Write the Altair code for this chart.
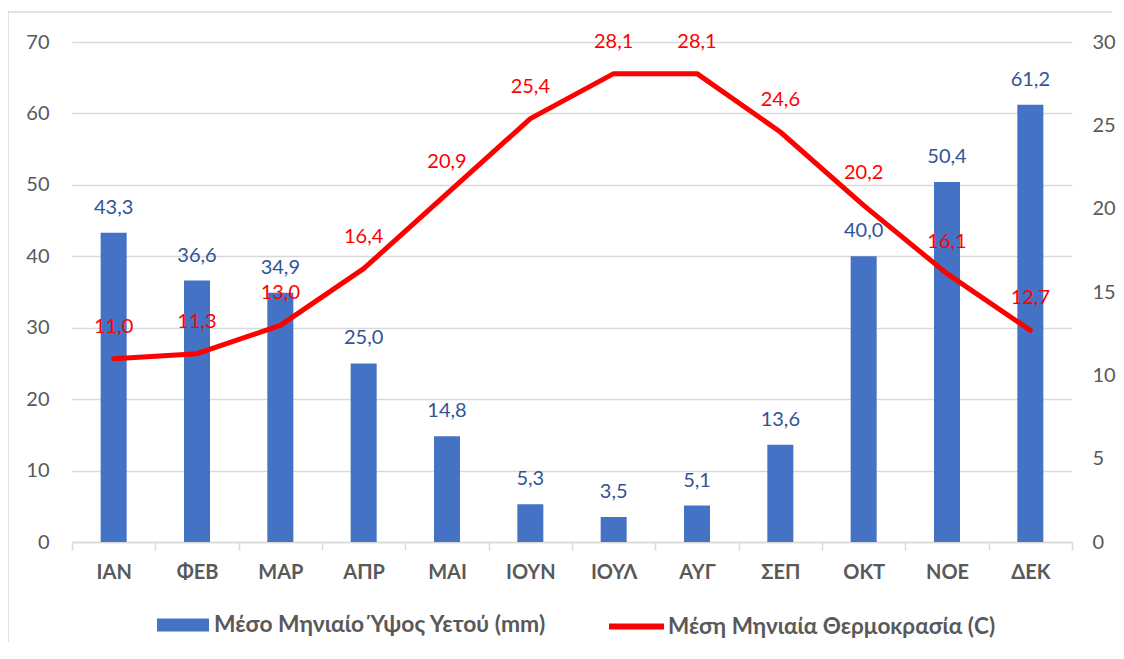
import altair as alt
import pandas as pd

months = ["ΙΑΝ", "ΦΕΒ", "ΜΑΡ", "ΑΠΡ", "ΜΑΙ", "ΙΟΥΝ", "ΙΟΥΛ", "ΑΥΓ", "ΣΕΠ", "ΟΚΤ", "ΝΟΕ", "ΔΕΚ"]
rain = [43.3, 36.6, 34.9, 25.0, 14.8, 5.3, 3.5, 5.1, 13.6, 40.0, 50.4, 61.2]
temp = [11.0, 11.3, 13.0, 16.4, 20.9, 25.4, 28.1, 28.1, 24.6, 20.2, 16.1, 12.7]
rain_name = "Μέσο Μηνιαίο Ύψος Υετού (mm)"
temp_name = "Μέση Μηνιαία Θερμοκρασία (C)"
left_ticks = [0, 10, 20, 30, 40, 50, 60, 70]
right_ticks = [0, 5, 10, 15, 20, 25, 30]

df = pd.DataFrame({"month": months, "rain": rain, "temp": temp,
                   "s1": rain_name, "s2": temp_name})

FONT = "Lato, Noto Sans, sans-serif"
GRAY = "#595959"

base = alt.Chart(df).transform_calculate(
    rain_lbl="replace(format(datum.rain, '.1f'), '.', ',')",
    temp_lbl="replace(format(datum.temp, '.1f'), '.', ',')",
)

xenc = alt.X("month:N", sort=months, title=None,
             scale=alt.Scale(paddingInner=0, paddingOuter=0),
             axis=alt.Axis(labelAngle=0, labelFont=FONT, labelFontSize=20,
                           labelFontWeight="bold", labelColor=GRAY,
                           domainColor="#D9D9D9", domainWidth=1.5,
                           tickColor="#D9D9D9", tickWidth=1.5, tickSize=8,
                           tickBand="extent", labelPadding=12, grid=False))

y_left = alt.Y("rain:Q", title=None,
               scale=alt.Scale(domain=[0, 70], nice=False),
               axis=alt.Axis(orient="left", values=left_ticks, domain=False,
                             ticks=False, labelFont=FONT, labelFontSize=20,
                             labelColor=GRAY, labelPadding=23,
                             grid=True, gridColor="#D9D9D9", gridWidth=1.5))

bars = base.mark_bar(size=26).encode(
    x=xenc,
    y=y_left,
    color=alt.Color("s1:N", scale=alt.Scale(domain=[rain_name], range=["#4472C4"]),
                    legend=alt.Legend(orient="none", legendX=85, legendY=557,
                                      title=None, direction="horizontal",
                                      symbolType="M-1,-0.25H1V0.25H-1Z",
                                      symbolSize=2704, symbolStrokeWidth=0,
                                      labelFont=FONT, labelFontSize=22.8,
                                      labelFontWeight="bold", labelColor=GRAY,
                                      labelLimit=500, labelOffset=5, padding=0)),
)

bar_text = base.mark_text(font=FONT, fontSize=20, color="#2F5597",
                          baseline="middle", dy=-25).encode(
    x=alt.X("month:N", sort=months),
    y=alt.Y("rain:Q"),
    text="rain_lbl:N",
)

frame_top = base.mark_rule(stroke="#D9D9D9", strokeWidth=1.5).encode(
    x=alt.value(-64), x2=alt.value(1040), y=alt.value(-30)
).transform_filter("datum.month == 'ΙΑΝ'")
frame_left = base.mark_rule(stroke="#D9D9D9", strokeWidth=1.5).encode(
    x=alt.value(-64), y=alt.value(-30), y2=alt.value(600)
).transform_filter("datum.month == 'ΙΑΝ'")

y_right = alt.Y("temp:Q", title=None,
                scale=alt.Scale(domain=[0, 30], nice=False),
                axis=alt.Axis(orient="right", values=right_ticks, domain=False,
                              ticks=False, labelFont=FONT, labelFontSize=20,
                              labelColor=GRAY, labelPadding=20, grid=False))

line = base.mark_line(strokeWidth=5, strokeJoin="round", strokeCap="round").encode(
    x=alt.X("month:N", sort=months),
    y=y_right,
    stroke=alt.Stroke("s2:N", scale=alt.Scale(domain=[temp_name], range=["#FF0000"]),
                      legend=alt.Legend(orient="none", legendX=534, legendY=554,
                                        title=None, direction="horizontal",
                                        symbolType="stroke", symbolSize=3025,
                                        symbolStrokeWidth=6,
                                        labelFont=FONT, labelFontSize=22.5,
                                        labelFontWeight="bold", labelColor=GRAY,
                                        labelLimit=500, labelOffset=1, padding=0)),
)

line_text = base.mark_text(font=FONT, fontSize=20, color="#FF0000",
                           baseline="middle", dy=-32).encode(
    x=alt.X("month:N", sort=months),
    y=alt.Y("temp:Q"),
    text="temp_lbl:N",
)

left_layer = alt.layer(frame_top, frame_left, bars, bar_text)
right_layer = alt.layer(line, line_text)

chart = alt.layer(left_layer, right_layer).resolve_scale(
    y="independent", color="independent", stroke="independent"
).properties(
    width=1000, height=500,
    autosize=alt.AutoSizeParams(type="none"),
    padding={"left": 64, "top": 34, "right": 44, "bottom": 100},
).configure_view(stroke=None)

chart.save("out.html", embed_options={"renderer": "svg", "actions": False})
